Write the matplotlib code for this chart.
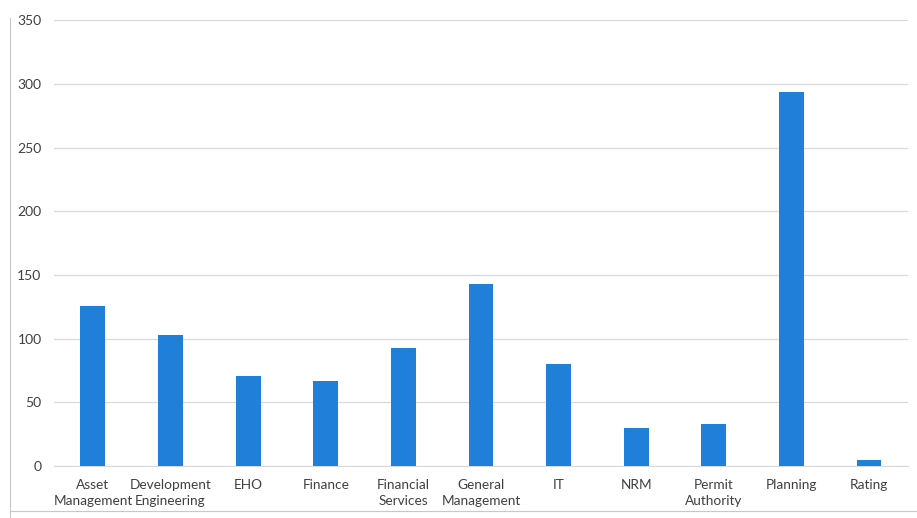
import matplotlib
matplotlib.use('Agg')
import matplotlib.pyplot as plt
from matplotlib.lines import Line2D

# department counts
departments = ['Asset\nManagement', 'Development\nEngineering', 'EHO', 'Finance',
               'Financial\nServices', 'General\nManagement', 'IT', 'NRM',
               'Permit\nAuthority', 'Planning', 'Rating']
counts = [126, 103, 71, 67, 93, 143, 80, 30, 33, 294, 5]
y_ticks = [0, 50, 100, 150, 200, 250, 300, 350]

plt.rcParams['font.family'] = ['Lato', 'DejaVu Sans']

fig = plt.figure(figsize=(9.17, 5.18), dpi=100)
ax = fig.add_axes([0.059, 0.10, 0.931, 0.861])

ax.bar(range(len(departments)), counts, width=0.32, color='#1f7fd9', zorder=3)

ax.set_xlim(-0.5, len(departments) - 0.5)
ax.set_ylim(0, 350)
ax.set_yticks(y_ticks)
ax.set_xticks(range(len(departments)))
ax.set_xticklabels(departments, fontsize=9.8, color='#404040', linespacing=1.45)
ax.tick_params(axis='y', labelsize=10, labelcolor='#404040', length=0, pad=9)
ax.tick_params(axis='x', length=0, pad=9)
ax.grid(axis='y', color='#d9d9d9', linewidth=0.9, zorder=0)
for side in ['top', 'right', 'left']:
    ax.spines[side].set_visible(False)
ax.spines['bottom'].set_color('#d9d9d9')

# faint border left over from the scanned page
fig.add_artist(Line2D([0.011, 0.011], [0.0, 0.965], color='#c8c8c8', linewidth=0.8))
fig.add_artist(Line2D([0.011, 1.0], [0.013, 0.013], color='#c8c8c8', linewidth=0.8))

plt.savefig('out.png')
